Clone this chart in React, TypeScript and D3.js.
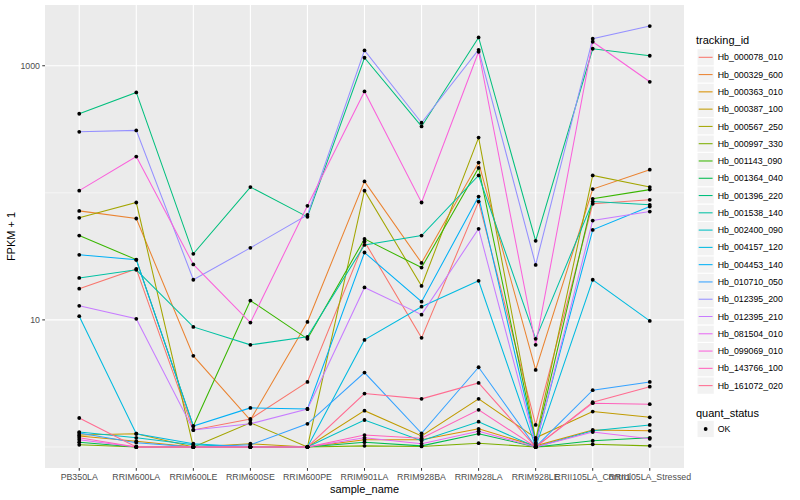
import React from "react";
import * as d3 from "d3";

const samples = [
  "PB350LA", "RRIM600LA", "RRIM600LE", "RRIM600SE", "RRIM600PE", "RRIM901LA",
  "RRIM928BA", "RRIM928LA", "RRIM928LE", "RRII105LA_Control", "RRII105LA_Stressed",
];

const trackingIds = [
  "Hb_000078_010", "Hb_000329_600", "Hb_000363_010", "Hb_000387_100", "Hb_000567_250",
  "Hb_000997_330", "Hb_001143_090", "Hb_001364_040", "Hb_001396_220", "Hb_001538_140",
  "Hb_002400_090", "Hb_004157_120", "Hb_004453_140", "Hb_010710_050", "Hb_012395_200",
  "Hb_012395_210", "Hb_081504_010", "Hb_099069_010", "Hb_143766_100", "Hb_161072_020",
];

const palette = [
  "#F8766D", "#EA8331", "#D89000", "#C09B00", "#A3A500", "#7CAE00", "#39B600", "#00BB4E",
  "#00BF7D", "#00C1A3", "#00BFC4", "#00BAE0", "#00B0F6", "#35A2FF", "#9590FF", "#C77CFF",
  "#E76BF3", "#FA62DB", "#FF62BC", "#FF6C91",
];

// FPKM + 1 values, one array per tracking_id, in sample order
const hb_000078_010 = [17.6, 25.2, 1.36, 1.66, 3.25, 41.4, 7.22, 85.4, 1.49, 81.9, 88.1];
const hb_000329_600 = [72.1, 62.8, 5.21, 1.63, 9.64, 123, 28.1, 173, 4.04, 107, 152];
const hb_000363_010 = [1.22, 1.11, 1.0, 1.0, 1.0, 1.14, 1.14, 1.39, 1.02, 1.36, 1.34];
const hb_000387_100 = [1.24, 1.27, 1.0, 1.06, 1.0, 1.93, 1.22, 2.39, 1.18, 1.9, 1.71];
const hb_000567_250 = [63.6, 83.9, 1.0, 1.55, 1.0, 104, 18.5, 272, 1.14, 137, 111];
const hb_000997_330 = [1.04, 1.0, 1.0, 1.0, 1.0, 1.02, 1.01, 1.07, 1.0, 1.05, 1.02];
const hb_001143_090 = [46.1, 29.8, 1.46, 14.2, 7.09, 43.4, 25.8, 157, 1.08, 89.7, 106];
const hb_001364_040 = [1.09, 1.0, 1.0, 1.0, 1.0, 1.09, 1.02, 1.27, 1.0, 1.12, 1.18];
const hb_001396_220 = [419, 617, 33.1, 111, 64.7, 1156, 333, 1671, 41.9, 1361, 1199];
const hb_001538_140 = [21.4, 24.8, 8.81, 6.36, 7.35, 38.9, 46.1, 137, 7.09, 85.4, 80.5];
const hb_002400_090 = [1.31, 1.18, 1.04, 1.0, 1.0, 1.63, 1.12, 1.58, 1.0, 1.34, 1.49];
const hb_004157_120 = [10.7, 1.27, 1.06, 1.0, 1.0, 6.96, 12.7, 20.3, 1.0, 20.7, 9.82];
const hb_004453_140 = [32.5, 29.7, 1.46, 2.03, 1.99, 33.9, 13.9, 93.5, 1.06, 51.1, 78.0];
const hb_010710_050 = [1.29, 1.08, 1.0, 1.04, 1.52, 3.85, 1.28, 4.24, 1.0, 2.8, 3.25];
const hb_012395_200 = [302, 310, 20.7, 36.9, 67.1, 1320, 356, 1336, 27.1, 1632, 2054];
const hb_012395_210 = [12.9, 10.2, 1.36, 1.52, 1.99, 18.0, 11.0, 52.1, 1.04, 60.5, 71.2];
const hb_081504_010 = [1.14, 1.0, 1.0, 1.0, 1.0, 1.18, 1.06, 1.33, 1.0, 1.31, 1.16];
const hb_099069_010 = [104, 193, 27.3, 9.52, 79, 628, 83.9, 1289, 6.36, 1545, 748];
const hb_143766_100 = [1.18, 1.0, 1.0, 1.0, 1.0, 1.24, 1.17, 1.96, 1.0, 2.21, 2.17];
const hb_161072_020 = [1.69, 1.0, 1.0, 1.0, 1.0, 2.63, 2.39, 3.19, 1.0, 2.25, 2.98];

const seriesValues = [
  hb_000078_010, hb_000329_600, hb_000363_010, hb_000387_100, hb_000567_250,
  hb_000997_330, hb_001143_090, hb_001364_040, hb_001396_220, hb_001538_140,
  hb_002400_090, hb_004157_120, hb_004453_140, hb_010710_050, hb_012395_200,
  hb_012395_210, hb_081504_010, hb_099069_010, hb_143766_100, hb_161072_020,
];

const yMajor = [10, 1000];
const yMinor = [1, 100];

const W = 800;
const H = 500;
const panel = { left: 45, right: 684, top: 5, bottom: 468 };
const FONT = "'Liberation Sans', Arial, Helvetica, sans-serif";

export default function App() {
  const x = d3
    .scalePoint<string>()
    .domain(samples)
    .range([panel.left, panel.right])
    .padding(0.6);

  const all = seriesValues.flat();
  const lmin = Math.log10(d3.min(all) as number);
  const lmax = Math.log10(d3.max(all) as number);
  const ex = (lmax - lmin) * 0.05;
  const y = d3
    .scaleLog()
    .domain([Math.pow(10, lmin - ex), Math.pow(10, lmax + ex)])
    .range([panel.bottom, panel.top]);

  const line = d3
    .line<number>()
    .x((_, i) => x(samples[i]) as number)
    .y((d) => y(d));

  const legendX = 697;
  const keySize = 17.28;
  const legendY0 = 57.3 - keySize / 2;

  return (
    <svg
      width={W}
      height={H}
      style={{ position: "absolute", left: 0, top: 0, background: "#fff" }}
      fontFamily={FONT}
    >
      <rect x={panel.left} y={panel.top} width={panel.right - panel.left} height={panel.bottom - panel.top} fill="#EBEBEB" />
      {yMinor.map((v) => (
        <line key={"mn" + v} x1={panel.left} x2={panel.right} y1={y(v)} y2={y(v)} stroke="#fff" strokeWidth={0.55} />
      ))}
      {yMajor.map((v) => (
        <line key={"mj" + v} x1={panel.left} x2={panel.right} y1={y(v)} y2={y(v)} stroke="#fff" strokeWidth={1.1} />
      ))}
      {samples.map((s) => (
        <line key={"vx" + s} x1={x(s)} x2={x(s)} y1={panel.top} y2={panel.bottom} stroke="#fff" strokeWidth={1.1} />
      ))}
      <g clipPath="url(#clip)">
        {seriesValues.map((vals, i) => (
          <path key={"l" + i} d={line(vals) as string} fill="none" stroke={palette[i]} strokeWidth={1.05} />
        ))}
        {seriesValues.map((vals, i) =>
          vals.map((v, j) => (
            <circle key={"p" + i + "-" + j} cx={x(samples[j])} cy={y(v)} r={1.9} fill="#000" />
          ))
        )}
      </g>
      <defs>
        <clipPath id="clip">
          <rect x={panel.left} y={panel.top} width={panel.right - panel.left} height={panel.bottom - panel.top} />
        </clipPath>
      </defs>
      {/* y axis */}
      {yMajor.map((v) => (
        <g key={"yt" + v}>
          <line x1={panel.left - 2.75} x2={panel.left} y1={y(v)} y2={y(v)} stroke="#333" strokeWidth={1} />
          <text x={panel.left - 5} y={y(v)} dy="0.35em" textAnchor="end" fontSize={8.8} fill="#4D4D4D">
            {v}
          </text>
        </g>
      ))}
      {/* x axis */}
      {samples.map((s) => (
        <g key={"xt" + s}>
          <line x1={x(s)} x2={x(s)} y1={panel.bottom} y2={panel.bottom + 2.75} stroke="#333" strokeWidth={1} />
          <text x={x(s)} y={panel.bottom + 12} textAnchor="middle" fontSize={8.8} fill="#4D4D4D">
            {s}
          </text>
        </g>
      ))}
      <text x={(panel.left + panel.right) / 2} y={493} textAnchor="middle" fontSize={11} fill="#000">
        sample_name
      </text>
      <text
        transform={`translate(15,${(panel.top + panel.bottom) / 2}) rotate(-90)`}
        textAnchor="middle"
        fontSize={11}
        fill="#000"
      >
        FPKM + 1
      </text>
      {/* legend: tracking_id */}
      <text x={legendX - 1} y={44} fontSize={11} fill="#000">
        tracking_id
      </text>
      {trackingIds.map((id, i) => {
        const ky = legendY0 + i * keySize;
        return (
          <g key={"lg" + id}>
            <rect x={legendX} y={ky} width={keySize} height={keySize} fill="#F2F2F2" stroke="#fff" strokeWidth={1} />
            <line x1={legendX + 1.7} x2={legendX + keySize - 1.7} y1={ky + keySize / 2} y2={ky + keySize / 2} stroke={palette[i]} strokeWidth={1.05} />
            <text x={legendX + keySize + 3.5} y={ky + keySize / 2} dy="0.35em" fontSize={8.8} fill="#000">
              {id}
            </text>
          </g>
        );
      })}
      {/* legend: quant_status */}
      <text x={legendX - 1} y={416.5} fontSize={11} fill="#000">
        quant_status
      </text>
      <rect x={legendX} y={429 - keySize / 2} width={keySize} height={keySize} fill="#F2F2F2" stroke="#fff" strokeWidth={1} />
      <circle cx={legendX + keySize / 2} cy={429} r={1.9} fill="#000" />
      <text x={legendX + keySize + 3.5} y={429} dy="0.35em" fontSize={8.8} fill="#000">
        OK
      </text>
    </svg>
  );
}
